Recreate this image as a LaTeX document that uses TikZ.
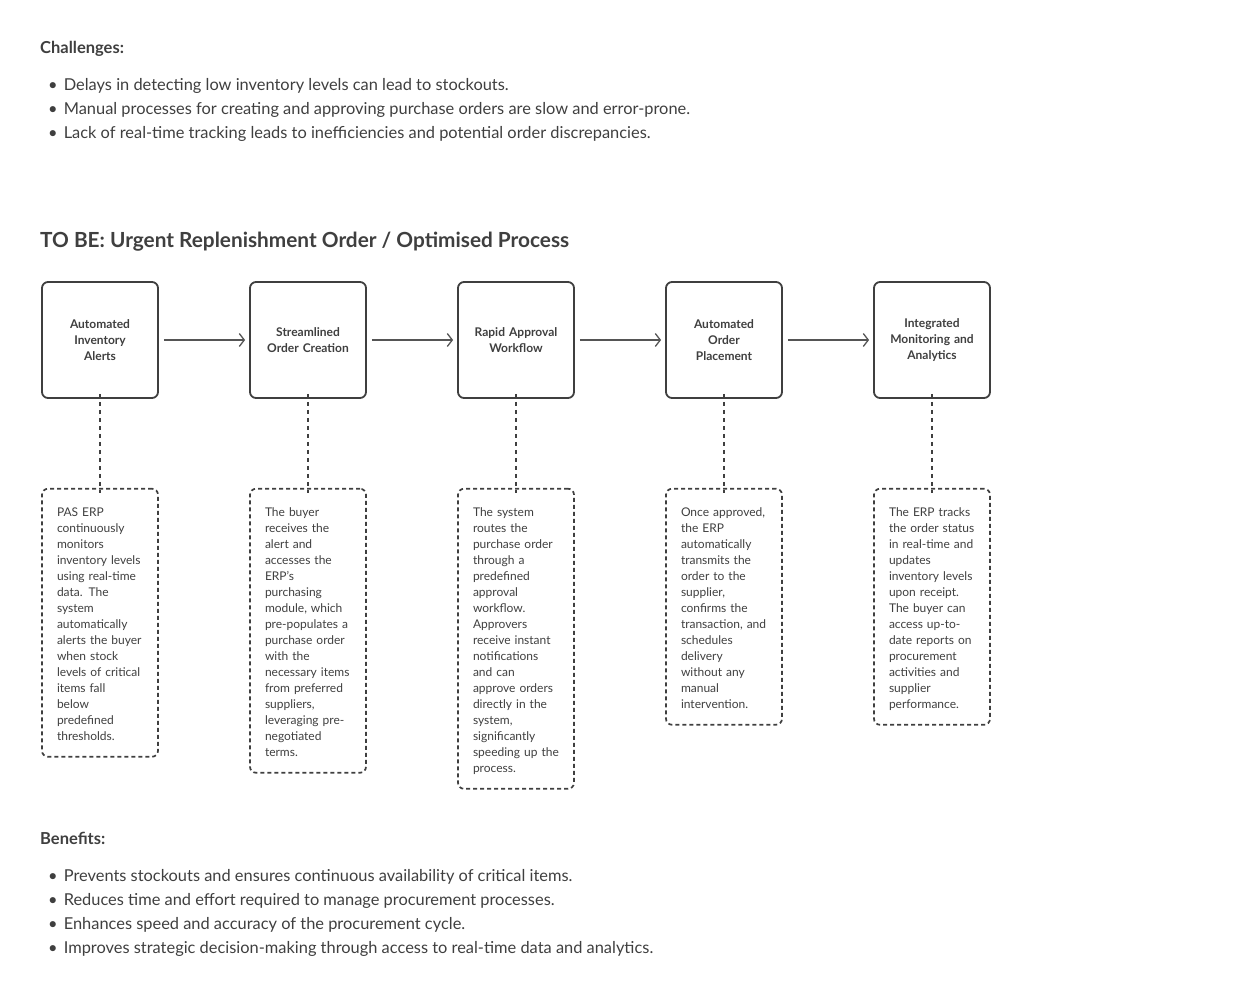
\documentclass[tikz,border=0pt]{standalone}
\usepackage{fontspec}
\setmainfont{Lato}
\usetikzlibrary{arrows.meta,positioning}
\definecolor{inkgray}{HTML}{3F3F3F}
\definecolor{linegray}{HTML}{555555}
\tikzset{
  stepbox/.style = {draw=inkgray, line width=1.8pt, rounded corners=6pt,
    minimum width=116pt, minimum height=116pt, text width=106pt, align=center,
    inner sep=0pt, font=\fontsize{12}{16}\selectfont\bfseries, text=inkgray},
  notebox/.style = {draw=inkgray, line width=1.7pt, dash pattern=on 4pt off 3pt,
    rounded corners=6pt, text width=90pt, inner xsep=13pt, inner ysep=14pt,
    align=left, font=\fontsize{12}{16}\selectfont, text=inkgray,
    execute at begin node={\leftskip=2pt\rule{0pt}{14pt}},
    execute at end node={\rule[-2pt]{0pt}{2pt}}},
  heading/.style = {anchor=base west, inner sep=0pt,
    font=\fontsize{16.5}{20}\selectfont\bfseries, text=inkgray},
  bulletline/.style = {anchor=base west, inner sep=0pt,
    font=\fontsize{16.4}{24}\selectfont, text=inkgray}}
\newcommand{\bul}{\makebox[15.6pt][l]{\textbullet}}

\begin{document}
\begin{tikzpicture}[x=1pt,y=-1pt,
  flow/.style={-{Straight Barb[length=5pt,width=13pt]}, draw=linegray, line width=1.3pt},
  tie/.style={draw=inkgray, line width=1.6pt, dash pattern=on 4pt off 4pt}]
\useasboundingbox (0,0) rectangle (1240,1007);

\node [heading] (chal) at (40,53) {Challenges:};
\node [bulletline] (chal1) at (48,90) {\bul Delays in detecting low inventory levels can lead to stockouts.};
\node [bulletline] (chal2) at (48,114) {\bul Manual processes for creating and approving purchase orders are slow and error-prone.};
\node [bulletline] (chal3) at (48,138) {\bul Lack of real-time tracking leads to inefficiencies and potential order discrepancies.};

\node [heading, font=\fontsize{20.8}{24}\selectfont\bfseries] (title) at (40,247)
	{TO BE: Urgent Replenishment Order / Optimised Process};

\node [stepbox] (s1) at (100,340) {Automated\\Inventory\\Alerts};
\node [stepbox, on grid, right=208pt of s1] (s2) {Streamlined\\Order Creation};
\node [stepbox, on grid, right=208pt of s2] (s3) {Rapid Approval\\Workflow};
\node [stepbox, on grid, right=208pt of s3] (s4) {Automated\\Order\\Placement};
\node [stepbox, on grid, right=208pt of s4] (s5) {Integrated\\Monitoring and\\Analytics};

\draw [flow] ([xshift=5pt]s1.east) -- ([xshift=-4pt]s2.west);
\draw [flow] ([xshift=5pt]s2.east) -- ([xshift=-4pt]s3.west);
\draw [flow] ([xshift=5pt]s3.east) -- ([xshift=-4pt]s4.west);
\draw [flow] ([xshift=5pt]s4.east) -- ([xshift=-4pt]s5.west);

\node [notebox, below=89pt of s1] (n1) {PAS ERP\\ continuously\\ monitors\\
	inventory levels\\ using real-time\\ data. The\\ system\\ automatically\\
	alerts the buyer\\ when stock\\ levels of critical\\ items fall\\ below\\
	predefined\\ thresholds.};
\node [notebox, below=89pt of s2] (n2) {The buyer\\ receives the\\ alert and\\
	accesses the\\ ERP’s\\ purchasing\\ module, which\\ pre-populates a\\
	purchase order\\ with the\\ necessary items\\ from preferred\\ suppliers,\\
	leveraging pre-\\ negotiated\\ terms.};
\node [notebox, below=89pt of s3] (n3) {The system\\ routes the\\ purchase order\\
	through a\\ predefined\\ approval\\ workflow.\\ Approvers\\ receive instant\\
	notifications\\ and can\\ approve orders\\ directly in the\\ system,\\
	significantly\\ speeding up the\\ process.};
\node [notebox, below=89pt of s4] (n4) {Once approved,\\ the ERP\\ automatically\\
	transmits the\\ order to the\\ supplier,\\ confirms the\\ transaction, and\\
	schedules\\ delivery\\ without any\\ manual\\ intervention.};
\node [notebox, below=89pt of s5] (n5) {The ERP tracks\\ the order status\\
	in real-time and\\ updates\\ inventory levels\\ upon receipt.\\ The buyer can\\
	access up-to-\\ date reports on\\ procurement\\ activities and\\ supplier\\
	performance.};

\draw [tie] ([yshift=5pt]s1.south) -- ([yshift=-5pt]n1.north);
\draw [tie] ([yshift=5pt]s2.south) -- ([yshift=-5pt]n2.north);
\draw [tie] ([yshift=5pt]s3.south) -- ([yshift=-5pt]n3.north);
\draw [tie] ([yshift=5pt]s4.south) -- ([yshift=-5pt]n4.north);
\draw [tie] ([yshift=5pt]s5.south) -- ([yshift=-5pt]n5.north);

\node [heading] (bene) at (40,844) {Benefits:};
\node [bulletline] (bene1) at (48,881) {\bul Prevents stockouts and ensures continuous availability of critical items.};
\node [bulletline] (bene2) at (48,905) {\bul Reduces time and effort required to manage procurement processes.};
\node [bulletline] (bene3) at (48,929) {\bul Enhances speed and accuracy of the procurement cycle.};
\node [bulletline] (bene4) at (48,953) {\bul Improves strategic decision-making through access to real-time data and analytics.};
\end{tikzpicture}
\end{document}
